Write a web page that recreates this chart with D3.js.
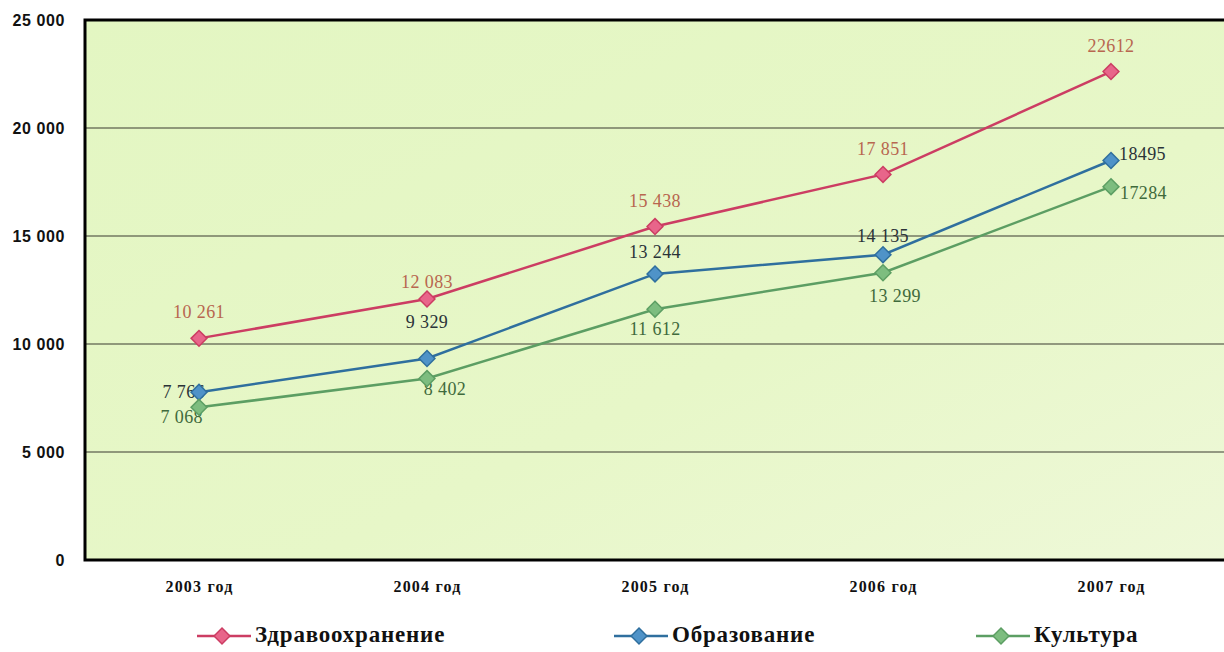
<!DOCTYPE html>
<html>
<head>
<meta charset="utf-8">
<script src="https://cdn.jsdelivr.net/npm/d3@7"></script>
<style>
  body { margin: 0; background: #fff; }
  svg { display: block; }
</style>
</head>
<body>
<div class="chart"></div>
<script>
'use strict';

// Data
const years = ['2003 год', '2004 год', '2005 год', '2006 год', '2007 год'];
const seriesNames = ['Здравоохранение', 'Образование', 'Культура'];
const health = [10261, 12083, 15438, 17851, 22612];
const education = [7766, 9329, 13244, 14135, 18495];
const culture = [7068, 8402, 11612, 13299, 17284];
const healthLabels = ['10 261', '12 083', '15 438', '17 851', '22612'];
const educationLabels = ['7 766', '9 329', '13 244', '14 135', '18495'];
const cultureLabels = ['7 068', '8 402', '11 612', '13 299', '17284'];
const yTicks = [0, 5000, 10000, 15000, 20000, 25000];

// Initialize
const w = 1224;
const h = 652;
const plotLeft = 85;
const plotTop = 20;
const plotBottom = 560;

const colors = ['#cc3d63', '#2f6f9e', '#5c9e63'];
const fills = ['#e8658a', '#4f93c8', '#7dbd7f'];
const labelColors = ['#b8664f', '#2a3338', '#3f6a3c'];

// label placement: [dx, dy, anchor]
const placement = [
  [[0, -24, 'middle'], [0, -15, 'middle'], [0, -24, 'middle'], [0, -24, 'middle'], [0, -24, 'middle']],
  [[6, 2, 'end'], [0, -35, 'middle'], [0, -20, 'middle'], [0, -17, 'middle'], [8, -5, 'start']],
  [[4, 12, 'end'], [18, 12, 'middle'], [0, 22, 'middle'], [12, 25, 'middle'], [9, 8, 'start']]
];

const svg = d3.select('.chart')
  .append('svg')
  .attr('width', w)
  .attr('height', h);

const defs = svg.append('defs');
const grad = defs.append('linearGradient')
  .attr('id', 'bg')
  .attr('x1', 0).attr('y1', 0).attr('x2', 1).attr('y2', 1);
grad.append('stop').attr('offset', '0%').attr('stop-color', '#e3f6c2');
grad.append('stop').attr('offset', '60%').attr('stop-color', '#e7f7c8');
grad.append('stop').attr('offset', '100%').attr('stop-color', '#eef8d8');

// Scales
const xScale = d3.scalePoint()
  .domain(years)
  .range([plotLeft, w + 1])
  .padding(0.5);

const yScale = d3.scaleLinear()
  .domain([0, 25000])
  .range([plotBottom, plotTop]);

// Plot background
svg.append('rect')
  .attr('x', plotLeft)
  .attr('y', plotTop)
  .attr('width', w - plotLeft + 2)
  .attr('height', plotBottom - plotTop)
  .attr('fill', 'url(#bg)');

// Grid
svg.append('g')
  .selectAll('line')
  .data(yTicks.filter(d => d > 0 && d < 25000))
  .enter()
  .append('line')
  .attr('x1', plotLeft)
  .attr('x2', w)
  .attr('y1', d => yScale(d))
  .attr('y2', d => yScale(d))
  .attr('stroke', '#3a3a30')
  .attr('stroke-width', 1.2);

// Axes
const fmt = d => d3.format(',')(d).replace(/,/g, ' ');
const yAxis = d3.axisLeft(yScale).tickValues(yTicks).tickFormat(fmt).tickSize(0).tickPadding(18);
svg.append('g')
  .attr('transform', `translate(${plotLeft - 2}, 0)`)
  .call(yAxis)
  .call(g => g.select('.domain').remove())
  .selectAll('text')
  .attr('font-family', 'Liberation Sans, Arial, sans-serif')
  .attr('font-weight', 'bold')
  .attr('font-size', 16)
  .attr('letter-spacing', 0.6)
  .attr('fill', '#111');

const xAxis = d3.axisBottom(xScale).tickSize(0).tickPadding(21);
svg.append('g')
  .attr('transform', `translate(0, ${plotBottom})`)
  .call(xAxis)
  .call(g => g.select('.domain').remove())
  .selectAll('text')
  .attr('font-family', 'Liberation Serif, Times New Roman, serif')
  .attr('font-weight', 'bold')
  .attr('font-size', 16)
  .attr('letter-spacing', 1.2)
  .attr('fill', '#111');

// Frame
svg.append('path')
  .attr('d', `M${w + 2},${plotTop} H${plotLeft} V${plotBottom} H${w + 2}`)
  .attr('fill', 'none')
  .attr('stroke', '#000')
  .attr('stroke-width', 3);

// Series
const series = [health, education, culture];
const labels = [healthLabels, educationLabels, cultureLabels];
const line = d3.line()
  .x((d, i) => xScale(years[i]))
  .y(d => yScale(d));

const diamond = d3.symbol().type(d3.symbolDiamond2).size(160);

// value labels go underneath lines and markers
series.forEach((vals, s) => {
  svg.append('g')
    .selectAll('text')
    .data(vals)
    .enter()
    .append('text')
    .attr('x', (d, i) => xScale(years[i]) + placement[s][i][0])
    .attr('y', (d, i) => yScale(d) + placement[s][i][1])
    .attr('text-anchor', (d, i) => placement[s][i][2])
    .attr('dominant-baseline', 'middle')
    .attr('font-family', 'Liberation Serif, Times New Roman, serif')
    .attr('font-size', 18)
    .attr('letter-spacing', 0.4)
    .attr('fill', labelColors[s])
    .text((d, i) => labels[s][i]);
});

series.forEach((vals, s) => {
  const g = svg.append('g');
  g.append('path')
    .datum(vals)
    .attr('d', line)
    .attr('fill', 'none')
    .attr('stroke', colors[s])
    .attr('stroke-width', 2.5);

  g.selectAll('path.dot')
    .data(vals)
    .enter()
    .append('path')
    .attr('class', 'dot')
    .attr('d', diamond)
    .attr('transform', (d, i) => `translate(${xScale(years[i])}, ${yScale(d)})`)
    .attr('fill', fills[s])
    .attr('stroke', colors[s])
    .attr('stroke-width', 1.5);
});

// Legends
const legendX = [197, 614, 976];
const legend = svg.selectAll('.legend')
  .data(seriesNames)
  .enter()
  .append('g')
  .attr('class', 'legend')
  .attr('transform', (d, i) => `translate(${legendX[i]}, 636)`);

legend.append('line')
  .attr('x1', 0)
  .attr('x2', 54)
  .attr('stroke', (d, i) => colors[i])
  .attr('stroke-width', 2.5);

legend.append('path')
  .attr('d', diamond)
  .attr('transform', 'translate(25, 0)')
  .attr('fill', (d, i) => fills[i])
  .attr('stroke', (d, i) => colors[i])
  .attr('stroke-width', 1.5);

legend.append('text')
  .attr('x', 58)
  .attr('y', 1)
  .attr('dominant-baseline', 'middle')
  .attr('font-family', 'Liberation Serif, Times New Roman, serif')
  .attr('font-weight', 'bold')
  .attr('font-size', 23)
  .attr('letter-spacing', 0.8)
  .attr('fill', '#111')
  .text(d => d);
</script>
</body>
</html>
